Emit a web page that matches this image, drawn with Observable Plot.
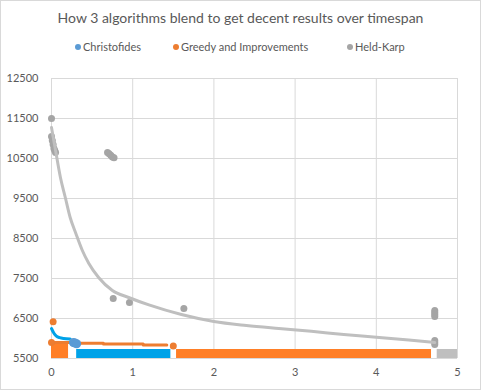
<!DOCTYPE html>
<html><head><meta charset="utf-8">
<script src="https://cdn.jsdelivr.net/npm/d3@7"></script>
<script src="https://cdn.jsdelivr.net/npm/@observablehq/plot@0.6"></script>
<style>
body{margin:0;background:#fff;}
#wrap{position:relative;width:481px;height:390px;overflow:hidden;font-family:Lato,"Open Sans",sans-serif;color:#595959;background:#fff;}
#frame{position:absolute;left:0;top:0;width:481px;height:390px;box-sizing:border-box;border:1px solid #D9D9D9;pointer-events:none;}
#title{position:absolute;left:0;width:481px;top:9px;text-align:center;font-size:14px;line-height:18px;}
.leg{position:absolute;top:40px;font-size:11px;line-height:14px;white-space:nowrap;}
.dot{display:inline-block;width:6px;height:6px;border-radius:50%;margin-right:2px;vertical-align:1px;}
#chart{position:absolute;left:0;top:62px;}
</style></head>
<body>
<div id="wrap">
  <div id="title">How 3 algorithms blend to get decent results over timespan</div>
  <div id="legend"></div>
  <div id="chart"></div>
  <div id="frame"></div>
</div>
<script>
// ---- data ----
const seriesNames = ["Christofides", "Greedy and Improvements", "Held-Karp"];
const seriesColors = ["#5B9BD5", "#ED7D31", "#A5A5A5"];
const legendLeft = [75, 173, 347];

const xTicks = [0, 1, 2, 3, 4, 5];
const yTicks = [5500, 6500, 7500, 8500, 9500, 10500, 11500, 12500];

// Held-Karp points
const hkX = [0, 0, 0.01, 0.02, 0.03, 0.04, 0.05, 0.69, 0.71, 0.73, 0.75, 0.77, 0.76, 0.96, 1.63, 4.72, 4.72, 4.72, 4.72, 4.72, 4.72, 4.72];
const hkY = [11500, 11050, 10950, 10850, 10750, 10700, 10650, 10650, 10620, 10580, 10540, 10520, 7000, 6900, 6750, 6700, 6650, 6600, 6550, 5950, 5900, 5850];

// Held-Karp trend line
const trendX = [0, 0.05, 0.11, 0.17, 0.23, 0.30, 0.38, 0.46, 0.58, 0.75, 0.95, 1.2, 1.6, 2.0, 2.4, 2.8, 3.2, 3.6, 4.0, 4.4, 4.72];
const trendY = [11275, 10700, 10025, 9525, 9025, 8625, 8200, 7875, 7525, 7200, 7025, 6840, 6600, 6425, 6325, 6250, 6180, 6100, 6030, 5960, 5900];

// Christofides
const chLineX = [0, 0.03, 0.06, 0.1, 0.15, 0.23];
const chLineY = [6250, 6130, 6060, 6020, 6000, 5990];
const chPtX = [0.27, 0.29, 0.31];
const chPtY = [5900, 5885, 5870];

// Greedy and Improvements
const grLineX = [0, 0.21, 0.37, 0.64, 0.64, 1.13, 1.13, 1.42];
const grLineY = [5900, 5900, 5880, 5880, 5860, 5860, 5840, 5840];
const grPtX = [0, 0.02, 1.5];
const grPtY = [5900, 6420, 5810];

// blocks (time spans)
const blockX1 = [0, 0.31, 1.54, 4.75];
const blockX2 = [0.21, 1.47, 4.68, 5];
const blockTop = [5860, 5725, 5725, 5725];
const blockBase = [5500, 5500, 5500, 5500];
const blockFill = ["#FF7F27", "#00A2E8", "#FF7F27", "#BFBFBF"];

// ---- legend ----
const leg = document.getElementById("legend");
seriesNames.forEach((n, i) => {
  const d = document.createElement("div");
  d.className = "leg";
  d.style.left = legendLeft[i] + "px";
  d.innerHTML = `<span class="dot" style="background:${seriesColors[i]}"></span>${n}`;
  leg.appendChild(d);
});

const hk = hkX.map((x, i) => ({x, y: hkY[i]}));
const trend = trendX.map((x, i) => ({x, y: trendY[i]}));
const chLine = chLineX.map((x, i) => ({x, y: chLineY[i]}));
const chPts = chPtX.map((x, i) => ({x, y: chPtY[i]}));
const grLine = grLineX.map((x, i) => ({x, y: grLineY[i]}));
const grPts = grPtX.map((x, i) => ({x, y: grPtY[i]}));
const blocks = blockX1.map((x1, i) => ({x1, x2: blockX2[i], y1: blockBase[i], y2: blockTop[i], fill: blockFill[i]}));

const chart = Plot.plot({
  width: 481,
  height: 328,
  marginLeft: 51,
  marginRight: 24,
  marginTop: 16,
  marginBottom: 32,
  style: {fontFamily: "Lato, 'Open Sans', sans-serif", fontSize: "11px", color: "#595959", background: "transparent"},
  x: {domain: [0, 5]},
  y: {domain: [5500, 12500]},
  marks: [
    Plot.gridX(xTicks, {stroke: "#D9D9D9", strokeOpacity: 1}),
    Plot.gridY(yTicks, {stroke: "#D9D9D9", strokeOpacity: 1}),
    Plot.rect(blocks, {x1: "x1", x2: "x2", y1: "y1", y2: "y2", fill: "fill"}),
    Plot.line(grLine, {x: "x", y: "y", stroke: "#ED7D31", strokeWidth: 3}),
    Plot.line(chLine, {x: "x", y: "y", stroke: "#00A2E8", strokeWidth: 3, curve: "monotone-x"}),
    Plot.dot(chPts, {x: "x", y: "y", r: 4.5, fill: "#5B9BD5"}),
    Plot.dot(grPts, {x: "x", y: "y", r: 3.5, fill: "#ED7D31"}),
    Plot.dot(hk, {x: "x", y: "y", r: 3.5, fill: "#A5A5A5"}),
    Plot.line(trend, {x: "x", y: "y", stroke: "#BFBFBF", strokeWidth: 3, curve: "monotone-x"}),
    Plot.axisX(xTicks, {tickSize: 0, tickPadding: 10, label: null, tickFormat: d => String(d)}),
    Plot.axisY(yTicks, {tickSize: 0, tickPadding: 13, label: null, tickFormat: d => String(d)})
  ]
});
document.getElementById("chart").appendChild(chart);
</script>
</body></html>
